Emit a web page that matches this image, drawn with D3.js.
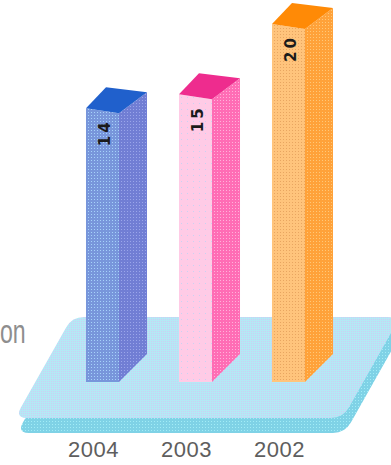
<!DOCTYPE html>
<html>
<head>
<meta charset="utf-8">
<script src="https://cdn.jsdelivr.net/npm/d3@7"></script>
<style>
  html, body { margin: 0; padding: 0; background: #ffffff; }
  svg { display: block; }
</style>
</head>
<body>
<svg id="chart" width="391" height="465"></svg>
<script>
// Yearly figures, drawn as extruded bars standing on a tilted plate
const years = ["2004", "2003", "2002"];
const values = [14, 15, 20];
const sideLabel = "on";

// Per-bar palettes: front face, dots on front, side face, dots on side, top face
const frontColors = ["#7896db", "#ffcbe6", "#ffc47c"];
const frontDots   = ["#a6d2fa", "#c9d2f2", "#e8a560"];
const sideColors  = ["#717ed4", "#ff6db5", "#ffa23a"];
const sideDots    = ["#9aa6ea", "#ffb2da", "#ffc878"];
const topColors   = ["#2060cc", "#ee2c8e", "#ff8a06"];

const W = 391, H = 465;
const base = 382;           // floor line of the bars
const svg = d3.select("#chart");
const defs = svg.append("defs");

// Halftone-like dot textures
function dotPattern(id, bg, dot, size) {
  const p = defs.append("pattern").attr("id", id)
    .attr("patternUnits", "userSpaceOnUse")
    .attr("width", size).attr("height", size);
  p.append("rect").attr("width", size).attr("height", size).attr("fill", bg);
  p.append("rect").attr("x", 1).attr("y", 1).attr("width", 1).attr("height", 1).attr("fill", dot);
}
years.forEach((y, i) => {
  dotPattern("front" + i, frontColors[i], frontDots[i], i === 1 ? 6 : 3);
  dotPattern("side" + i, sideColors[i], sideDots[i], 3);
});
// plate textures: cyan with a light lavender dither
dotPattern("plateTop", "#b4e9f5", "#cdcdf3", 2);
dotPattern("plateEdge", "#7fd2e6", "#a2ecf6", 3);

// Polygon with softened corners
function roundedPoly(pts, r) {
  const n = pts.length;
  let d = "";
  for (let i = 0; i < n; i++) {
    const p0 = pts[(i - 1 + n) % n], p1 = pts[i], p2 = pts[(i + 1) % n];
    const l1 = Math.hypot(p1[0] - p0[0], p1[1] - p0[1]);
    const l2 = Math.hypot(p2[0] - p1[0], p2[1] - p1[1]);
    const a = [p1[0] + (p0[0] - p1[0]) * r / l1, p1[1] + (p0[1] - p1[1]) * r / l1];
    const b = [p1[0] + (p2[0] - p1[0]) * r / l2, p1[1] + (p2[1] - p1[1]) * r / l2];
    d += (i === 0 ? "M" : "L") + a[0] + "," + a[1] + "Q" + p1[0] + "," + p1[1] + " " + b[0] + "," + b[1];
  }
  return d + "Z";
}

// Plate: edge band first, then the top surface
const plate = [[72, 317], [400, 317], [343, 418], [15, 418]];
const thick = 15;
svg.append("path")
  .attr("d", roundedPoly(plate.map(p => [p[0] + 2, p[1] + thick]), 12))
  .attr("fill", "url(#plateEdge)");
svg.append("path")
  .attr("d", roundedPoly(plate, 12))
  .attr("fill", "url(#plateTop)");

// Scales
const x = d3.scaleBand().domain(years).range([39.5, 351.5])
  .paddingInner(0.645).paddingOuter(0.5);
const y = d3.scaleLinear().domain([0, 20]).range([base - 77, base - 358]);

const bw = x.bandwidth();
const depthX = 28, depthY = 21, lean = 5;

const bars = svg.append("g").selectAll("g.bar")
  .data(years.map((yr, i) => ({ yr, v: values[i], i })))
  .join("g").attr("class", "bar");

const line = d3.line();

bars.append("path") // side face
  .attr("fill", d => "url(#side" + d.i + ")")
  .attr("d", d => {
    const x0 = x(d.yr), x1 = x0 + bw, t = y(d.v);
    return line([[x1, t + lean], [x1 + depthX, t + lean - depthY], [x1 + depthX, base - depthX], [x1, base]]) + "Z";
  });

bars.append("path") // front face
  .attr("fill", d => "url(#front" + d.i + ")")
  .attr("d", d => {
    const x0 = x(d.yr), x1 = x0 + bw, t = y(d.v);
    return line([[x0, base], [x0, t], [x1, t + lean], [x1, base]]) + "Z";
  });

bars.append("path") // top face
  .attr("fill", d => topColors[d.i])
  .attr("d", d => {
    const x0 = x(d.yr), x1 = x0 + bw, t = y(d.v);
    return line([[x0, t], [x0 + 20, t - 21], [x1 + depthX, t + lean - depthY], [x1, t + lean]]) + "Z";
  });

// Value labels, written upward inside the front face
bars.append("text")
  .attr("transform", d => `translate(${x(d.yr) + bw / 2 + 2},${y(d.v) + 38}) rotate(-90)`)
  .attr("dy", "0.36em")
  .attr("text-anchor", "start")
  .attr("font-family", "DejaVu Sans, sans-serif")
  .attr("font-weight", "bold")
  .attr("font-size", 15)
  .attr("letter-spacing", 3)
  .attr("fill", "#1a1a1a")
  .text(d => d.v);

// Year labels under the plate
svg.append("g").selectAll("text")
  .data(years)
  .join("text")
  .attr("x", d => x(d) + bw / 2 - 9)
  .attr("y", 457)
  .attr("text-anchor", "middle")
  .attr("font-family", "Liberation Sans, Arial, sans-serif")
  .attr("font-size", 22)
  .attr("letter-spacing", 0.5)
  .attr("fill", "#5e5e5e")
  .text(d => d);

// Caption fragment on the left
svg.append("text")
  .attr("transform", "translate(0,343) scale(0.68,1)")
  .attr("text-anchor", "start")
  .attr("font-family", "Liberation Sans, Arial, sans-serif")
  .attr("font-size", 34)
  .attr("fill", "#8e8e8e")
  .text(sideLabel);
</script>
</body>
</html>
